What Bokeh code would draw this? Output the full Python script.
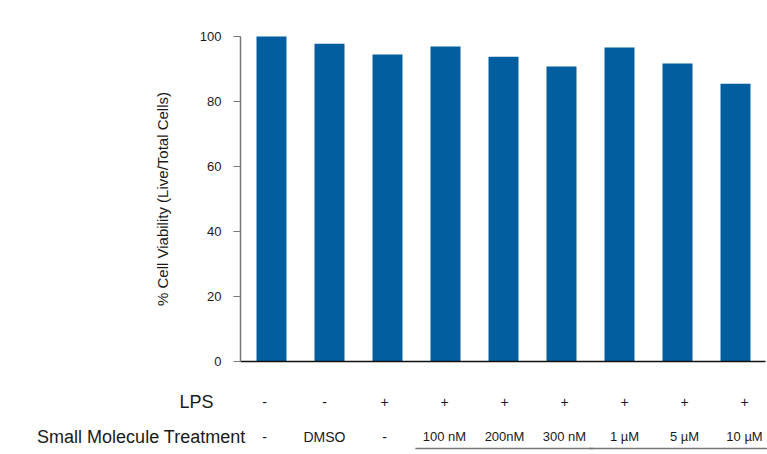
from bokeh.plotting import figure
from bokeh.models import ColumnDataSource, Range1d, FixedTicker
from bokeh.core.properties import value
from bokeh.embed import file_html
from bokeh.resources import INLINE

# ---- data ----
viability = [100, 97.8, 94.5, 96.9, 93.8, 90.8, 96.6, 91.7, 85.5]
lps = ["-", "-", "+", "+", "+", "+", "+", "+", "+"]
treatment = ["-", "DMSO", "-", "100 nM", "200nM", "300 nM", "1 \u00b5M", "5 \u00b5M", "10 \u00b5M"]
row_titles = ["LPS", "Small Molecule Treatment"]
groups = [(3, 5), (6, 8)]   # bracketed dose groups (bar index ranges)
y_ticks = [0, 20, 40, 60, 80, 100]

FONT = "Liberation Sans"
BAR = "#025e9f"
TXT = "#1a1a1a"

n = len(viability)
idx = list(range(n))

W, H = 767, 454
px_per_x = 58.0          # pixels per bar slot
px_per_y = 3.25          # pixels per % unit
bar0_px = 271            # centre of first bar
top_px = 36              # pixel row of 100 %
axis_px = 240            # pixel column of the y axis

x0 = -bar0_px / px_per_x
x1 = x0 + W / px_per_x
y1 = 100 + top_px / px_per_y
y0 = y1 - H / px_per_y
axis_x = (axis_px - bar0_px) / px_per_x

p = figure(width=W, height=H, output_backend="svg", toolbar_location=None,
           x_range=Range1d(x0, x1), y_range=Range1d(y0, y1),
           x_axis_location=None, min_border=0)
p.outline_line_color = None
p.grid.visible = False

src = ColumnDataSource(dict(x=idx, top=viability))
p.vbar(x="x", top="top", bottom=0, width=30 / px_per_x, source=src,
       fill_color=BAR, line_color=None)

# baseline
p.segment(x0=[axis_x], x1=[x1 - 2 / px_per_x], y0=[0], y1=[0],
          line_color="#111111", line_width=1.5)

ya = p.yaxis[0]
ya.fixed_location = axis_x
ya.ticker = FixedTicker(ticks=y_ticks)
ya.bounds = (0, 100)
ya.axis_line_color = "#777777"
ya.axis_line_width = 1.5
ya.major_tick_line_color = "#777777"
ya.major_tick_in = 0
ya.major_tick_out = 7
ya.minor_tick_line_color = None
ya.major_label_text_font = FONT
ya.major_label_text_font_size = "13px"
ya.major_label_text_color = TXT
ya.major_label_standoff = 12
ya.axis_label = "% Cell Viability (Live/Total Cells)"
ya.axis_label_text_font = FONT
ya.axis_label_text_font_size = "15px"
ya.axis_label_text_font_style = "normal"
ya.axis_label_text_color = TXT
ya.axis_label_standoff = 26

# row labels under the bars
row_y1 = -40 / px_per_y
row_y2 = -75 / px_per_y
lab_x = [(i * 60 - 7) / px_per_x for i in idx]
p.text(x=lab_x, y=[row_y1] * n, text=lps, text_align="center", text_baseline="middle",
       text_font=value(FONT), text_font_size="14px", text_color=TXT)
sizes = ["14px" if t in ("-", "DMSO") else "13px" for t in treatment]
p.text(x=lab_x, y=[row_y2] * n, text=treatment, text_align="center", text_baseline="middle",
       text_font=value(FONT), text_font_size=sizes, text_color=TXT)

title_x = [(213 - bar0_px) / px_per_x, (245 - bar0_px) / px_per_x]
p.text(x=title_x, y=[row_y1, row_y2], text=row_titles, text_align="right",
       text_baseline="middle", text_font=value(FONT), text_font_size="18px", text_color=TXT)

# group underlines
uy = -87 / px_per_y
p.segment(x0=[g[0] - 0.52 for g in groups], x1=[g[1] + 0.55 for g in groups],
          y0=[uy] * len(groups), y1=[uy] * len(groups), line_color="#777777", line_width=1.5)

open("out.html", "w").write(file_html(p, INLINE))
